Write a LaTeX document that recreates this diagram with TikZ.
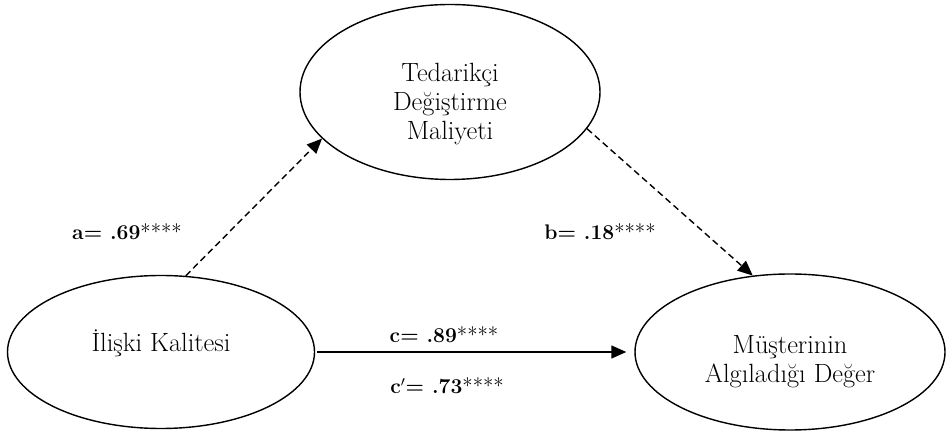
\documentclass[tikz,border=0pt]{standalone}
\usepackage{tikz}
\usetikzlibrary{arrows.meta,shapes.geometric}

\begin{document}
\begin{tikzpicture}[
  construct/.style={draw, ellipse, line width=0.8pt, inner sep=0pt},
  conlabel/.style={align=center, inner sep=0pt, font=\fontsize{15}{16.5}\selectfont},
  path/.style={-{Triangle[length=0.3cm,width=0.26cm]}, line width=0.8pt},
  indirect/.style={path, dash pattern=on 0.13cm off 0.08cm},
  coef/.style={font=\fontsize{12}{14.5}\selectfont, inner sep=1pt}
]
\useasboundingbox (0,0) rectangle (18.92,8.64);

% Constructs; names sit a little off the ellipse centres.
\node[construct, minimum width=6.0cm, minimum height=3.5cm,
  label={[conlabel, yshift=-0.25cm]center:Tedarikçi\\Değiştirme\\Maliyeti}] (cost) at (9.0,6.80) {};

\node[construct, minimum width=6.14cm, minimum height=3.06cm,
  label={[conlabel, yshift=0.18cm]center:İlişki Kalitesi}] (quality) at (3.22,1.60) {};

\node[construct, minimum width=6.2cm, minimum height=3.12cm,
  label={[conlabel, yshift=-0.2cm]center:Müşterinin\\Algıladığı Değer}] (value) at (15.8,1.60) {};

% Mediated paths.
\draw[indirect] (quality.72) -- (cost.200);
\draw[indirect] (cost.345) -- (value.116);

% Direct path.
\draw[path, shorten <=0.04cm, shorten >=0.16cm] (quality.east) -- (value.west);

% Coefficients.
\node[coef] (acoef) at (2.54,4.00) {\textbf{a= .69}****};
\node[coef] (bcoef) at (12.0,4.00) {\textbf{b= .18}****};
\node[coef] (ccoef) at (8.88,1.94) {\textbf{c= .89}****};
\node[coef] (cpcoef) at (8.94,0.92) {\textbf{c$'$= .73}****};

\end{tikzpicture}
\end{document}
